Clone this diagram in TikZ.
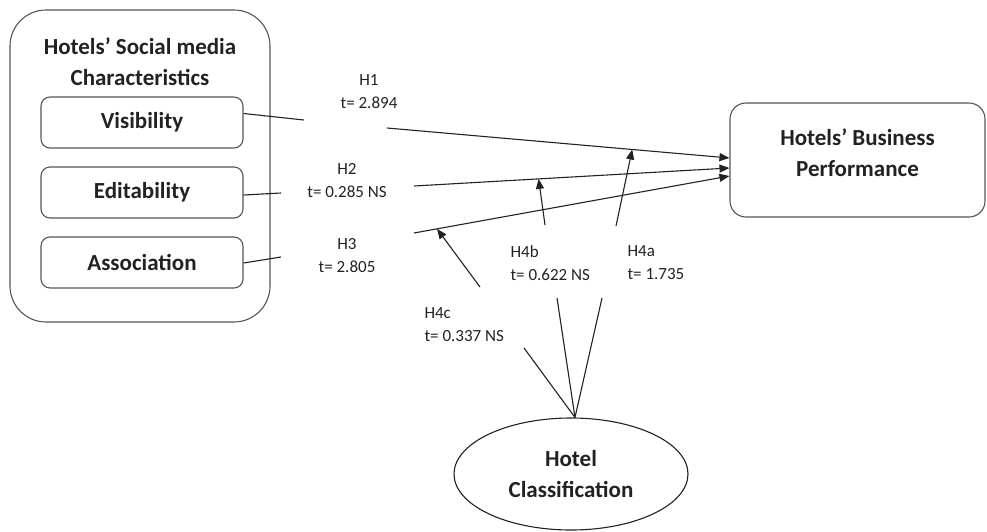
\documentclass[tikz,border=0pt]{standalone}
\usepackage{fontspec}
\setmainfont{Carlito}
\usetikzlibrary{arrows.meta,shapes.geometric,calc}
\definecolor{ink}{HTML}{222222}
\definecolor{frame}{HTML}{555555}
\tikzset{
  boxtitle/.style={font=\fontsize{23}{31}\selectfont\bfseries, text=ink, align=center},
  itembox/.style={draw=frame, line width=1.1pt, rounded corners=9pt,
    minimum width=202pt, minimum height=51pt, boxtitle},
  stat/.style={font=\fontsize{17}{23}\selectfont, text=ink},
  link/.style={draw=ink, line width=1.1pt},
  tip/.style={link, -{Triangle[length=10pt,width=8pt]}},
}
\begin{document}
\begin{tikzpicture}[x=1pt,y=-1pt]
  \useasboundingbox (0,0) rectangle (987,531);

  % social media characteristics group
  \node[draw=frame, line width=1.1pt, rounded corners=36pt,
        minimum width=260pt, minimum height=312pt] (smc) at (140,166) {};
  \node[boxtitle] (smctitle) at (140,62) {Hotels’ Social media\\Characteristics};
  \node[itembox] (vis) at (142,122.5) {Visibility};
  \node[itembox] (edi) at (142,192.5) {Editability};
  \node[itembox] (ass) at (142,262.5) {Association};

  % outcome and moderator
  \node[draw=frame, line width=1.1pt, rounded corners=16pt,
        minimum width=255pt, minimum height=114pt] (perf) at (857.5,160) {};
  \node[boxtitle] (perftext) at (857.5,153) {Hotels’ Business\\Performance};
  \node[draw=ink, line width=1.1pt, ellipse, minimum width=234pt,
        minimum height=112pt, boxtitle] (cls) at (571,474)
        {Hotel\\Classification};

  % break points around the path labels
  \coordinate (v1) at (304,120);
  \coordinate (v2) at (387,128);
  \coordinate (e1) at (281,193);
  \coordinate (e2) at (414,186);
  \coordinate (a1) at (281,257);
  \coordinate (a2) at (414,233);
  \coordinate (p1) at ([yshift=2pt]perf.west);
  \coordinate (p2) at ([yshift=-8pt]perf.west);
  \coordinate (p3) at ([yshift=-16pt]perf.west);
  \coordinate (m1) at ($(v2)!0.716!(p1)$);
  \coordinate (m2) at ($(e2)!0.395!(p2)$);
  \coordinate (m3) at ($(a2)!0.073!(p3)$);
  \coordinate (c1) at (616,226);
  \coordinate (c2) at (545,225);
  \coordinate (c3) at (480,287);
  \coordinate (d1) at (602,298);
  \coordinate (d2) at (557,298);
  \coordinate (d3) at (524,348);
  \coordinate (top) at ([xshift=4pt]cls.north);

  % direct paths
  \draw[link] ([yshift=9pt]vis.east) -- (v1);
  \draw[tip] (v2) -- (p1);
  \draw[link] ([yshift=-2.5pt]edi.east) -- (e1);
  \draw[tip] (e2) -- (p2);
  \draw[link] ([yshift=-0.5pt]ass.east) -- (a1);
  \draw[tip] (a2) -- (p3);

  % moderating paths
  \draw[tip] (c1) -- (m1);
  \draw[tip] (c2) -- (m2);
  \draw[tip] (c3) -- (m3);
  \draw[link] (top) -- (d1);
  \draw[link] (top) -- (d2);
  \draw[link] (top) -- (d3);

  % path statistics
  \node[stat, align=center] (h1) at (369,92) {H1\\t= 2.894};
  \node[stat, align=center] (h2) at (347,181) {H2\\t= 0.285 NS};
  \node[stat, align=center] (h3) at (347,256) {H3\\t= 2.805};
  \node[stat, align=left, anchor=west] (h4b) at (507,263) {H4b\\t= 0.622 NS};
  \node[stat, align=left, anchor=west] (h4a) at (624,263) {H4a\\t= 1.735};
  \node[stat, align=left, anchor=west] (h4c) at (421,325) {H4c\\t= 0.337 NS};
\end{tikzpicture}
\end{document}
